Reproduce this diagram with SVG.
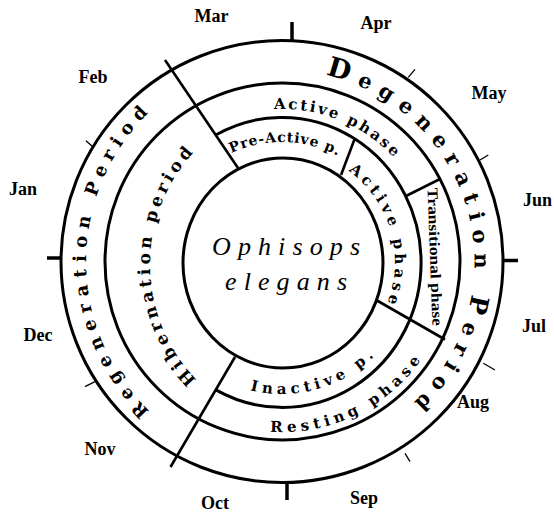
<svg xmlns="http://www.w3.org/2000/svg" width="554" height="514" viewBox="0 0 554 514">
<style>
.ring{fill:none;stroke:#000;stroke-width:3}
.div{stroke:#000;stroke-width:2.6;fill:none}
.maj{stroke:#000;stroke-width:3.5}
.min{stroke:#000;stroke-width:1.3}
.mon{font-family:"Liberation Serif",serif;font-weight:bold;font-size:18px;fill:#000;text-anchor:middle}
.band{font-family:"DejaVu Serif",serif;font-weight:bold;fill:#000}
.ctr{font-family:"Liberation Serif",serif;font-style:italic;font-size:26px;fill:#000;text-anchor:middle}
</style>
<defs>
<path id="p-degen" d="M 325.7 74.9 A 192 192 0 0 1 405.9 409.1"/>
<path id="p-regen" d="M 149.5 411.1 A 208 208 0 0 1 149.5 111.9"/>
<path id="p-hib" d="M 196.6 379.8 A 166 166 0 0 1 194.6 151.3"/>
<path id="p-actout" d="M 274.0 109.2 A 153 153 0 0 1 395.7 159.6"/>
<path id="p-pre" d="M 231.3 153.2 A 120 120 0 0 1 338.3 156.1"/>
<path id="p-actin" d="M 348.4 170.6 A 113 113 0 0 1 386.8 304.3"/>
<path id="p-inact" d="M 250.1 390.1 A 132 132 0 0 0 375.3 355.3"/>
<path id="p-rest" d="M 270.1 431.6 A 170 170 0 0 0 421.3 359.5"/>
</defs>
<rect width="554" height="514" fill="#fff"/>

<g id="rings">
<circle class="ring" cx="282" cy="261.5" r="221"/>
<ellipse class="ring" cx="282.5" cy="261.5" rx="177.5" ry="178.5"/>
<path class="ring" d="M 215.7 135 A 139 145 0 1 1 215.9 389.9"/>
<ellipse class="ring" cx="283" cy="263" rx="100" ry="105"/>
</g>

<g id="connectors">
<line class="div" x1="165" y1="60" x2="238" y2="168"/>
<line class="div" x1="235" y1="357" x2="170.5" y2="467"/>
<line class="div" x1="341" y1="175" x2="355" y2="138"/>
<line class="div" x1="406" y1="196" x2="441" y2="178.5"/>
<line class="div" x1="377" y1="300.5" x2="445" y2="339.5"/>
</g>

<g id="ticks">
<line class="maj" x1="292" y1="22" x2="292" y2="40"/>
<line class="maj" x1="287" y1="483" x2="287" y2="500"/>
<line class="maj" x1="47" y1="258" x2="62" y2="258"/>
<line class="maj" x1="502" y1="260.5" x2="518" y2="260.5"/>
<line class="min" x1="408.3" y1="77.3" x2="415" y2="69.3"/>
<line class="min" x1="480" y1="160" x2="488.3" y2="155"/>
<line class="min" x1="483.3" y1="363.3" x2="495" y2="370"/>
<line class="min" x1="405" y1="453.3" x2="410" y2="461.7"/>
<line class="min" x1="95" y1="381.7" x2="85" y2="386.7"/>
<line class="min" x1="93.3" y1="147.3" x2="86" y2="140.7"/>
</g>

<g id="months">
<text class="mon" x="211.5" y="22">Mar</text>
<text class="mon" x="376" y="29">Apr</text>
<text class="mon" x="489" y="99">May</text>
<text class="mon" x="523" y="206" style="text-anchor:start">Jun</text>
<text class="mon" x="522" y="332" style="text-anchor:start">Jul</text>
<text class="mon" x="473" y="408">Aug</text>
<text class="mon" x="364" y="504">Sep</text>
<text class="mon" x="215" y="509">Oct</text>
<text class="mon" x="100" y="455">Nov</text>
<text class="mon" x="38" y="341">Dec</text>
<text class="mon" x="23" y="195">Jan</text>
<text class="mon" x="93" y="83">Feb</text>
</g>

<g id="degeneration-period">
<text class="band" font-size="21"><textPath href="#p-degen" textLength="415" lengthAdjust="spacing"><tspan font-size="27">D</tspan>egeneration <tspan font-size="25">P</tspan>eriod</textPath></text>
</g>
<g id="regeneration-period">
<text class="band" font-size="18"><textPath href="#p-regen" textLength="332" lengthAdjust="spacing">Regeneration Period</textPath></text>
</g>
<g id="hibernation-period">
<text class="band" font-size="17"><textPath href="#p-hib" textLength="250" lengthAdjust="spacing">Hibernation period</textPath></text>
</g>
<g id="active-phase-outer">
<text class="band" font-size="15"><textPath href="#p-actout" textLength="133" lengthAdjust="spacing">Active phase</textPath></text>
</g>
<g id="pre-active">
<text class="band" font-size="14"><textPath href="#p-pre" textLength="110" lengthAdjust="spacing">Pre-Active p.</textPath></text>
</g>
<g id="active-phase-inner">
<text class="band" font-size="15"><textPath href="#p-actin" textLength="148" lengthAdjust="spacing">Active phase</textPath></text>
</g>
<g id="transitional-phase">
<text x="430" y="257" transform="rotate(88 430 257)" font-family="Liberation Serif, serif" font-weight="bold" font-size="15" text-anchor="middle" textLength="138" lengthAdjust="spacingAndGlyphs">Transitional phase</text>
</g>
<g id="inactive">
<text class="band" font-size="15"><textPath href="#p-inact" textLength="134" lengthAdjust="spacing">Inactive p.</textPath></text>
</g>
<g id="resting-phase">
<text class="band" font-size="15"><textPath href="#p-rest" textLength="174" lengthAdjust="spacing">Resting phase</textPath></text>
</g>
<g id="center">
<text class="ctr" x="286" y="255" textLength="148" lengthAdjust="spacing">Ophisops</text>
<text class="ctr" x="286" y="290" textLength="122" lengthAdjust="spacing">elegans</text>
</g>
</svg>
